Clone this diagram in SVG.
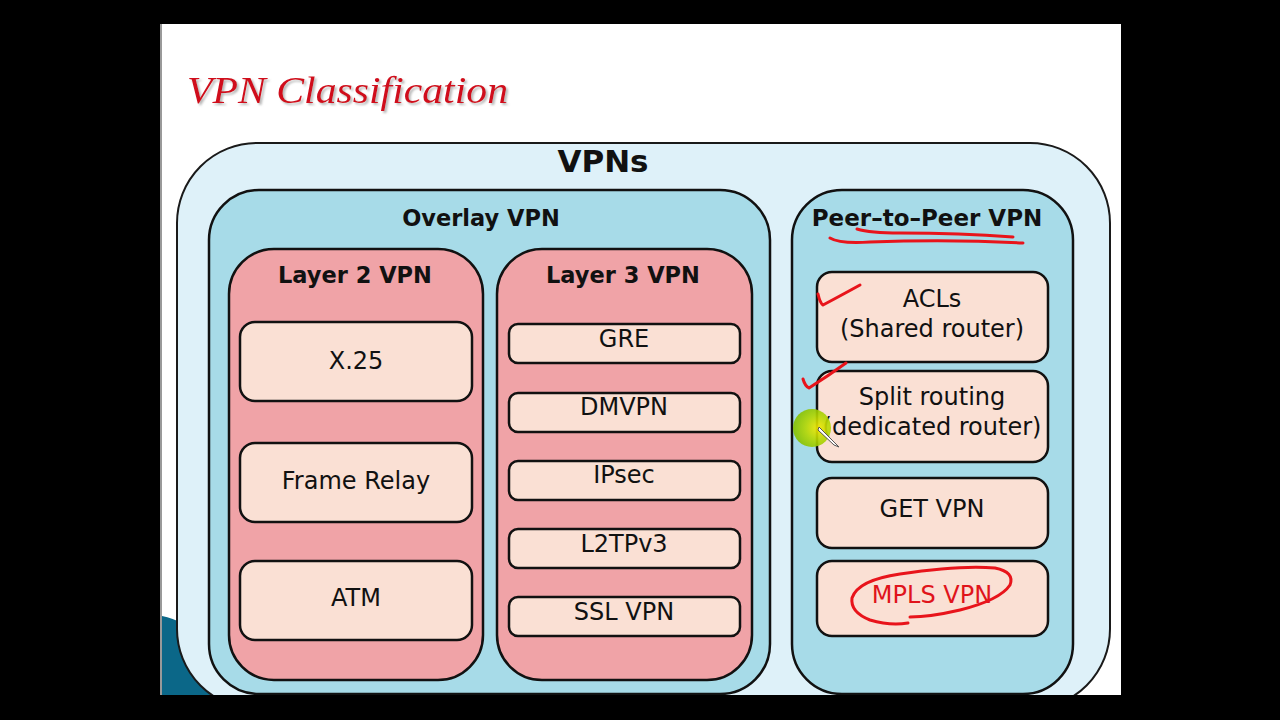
<svg xmlns="http://www.w3.org/2000/svg" width="1280" height="720" viewBox="0 0 1280 720">
<defs>
<style>
.outer{fill:#def1f9;stroke:#1a1a1a;stroke-width:2}
.grp{fill:#a7dbe8;stroke:#111;stroke-width:2.5}
.layer{fill:#f0a3a7;stroke:#111;stroke-width:2.5}
.item{fill:#fae0d4;stroke:#111;stroke-width:2.5}
.hdr{font-family:"DejaVu Sans",Verdana,sans-serif;font-weight:bold;font-size:22.5px;fill:#111;text-anchor:middle}
.txt{font-family:"DejaVu Sans",Verdana,sans-serif;font-size:24px;fill:#111;text-anchor:middle}
.ink{fill:none;stroke:#e8141b;stroke-width:3;stroke-linecap:round;stroke-linejoin:round}
</style>
<filter id="sh" x="-5%" y="-20%" width="110%" height="140%">
<feDropShadow dx="2" dy="2" stdDeviation="1.2" flood-color="#888" flood-opacity="0.6"/>
</filter>
<radialGradient id="hl" cx="0.65" cy="0.5" r="0.6">
<stop offset="0" stop-color="#f4e800"/>
<stop offset="0.55" stop-color="#b2d600"/>
<stop offset="1" stop-color="#88c200"/>
</radialGradient>
</defs>
<rect x="0" y="0" width="1280" height="720" fill="#000"/>
<rect x="160" y="24" width="961" height="671" fill="#fff"/>
<rect x="160" y="24" width="2" height="671" fill="#999"/>
<path d="M162,616 Q205,624 245,695 L162,695 Z" fill="#0b6788"/>

<text x="187" y="103" font-family="'Liberation Serif',serif" font-style="italic" font-size="38" fill="#d0101c" textLength="321" lengthAdjust="spacingAndGlyphs" filter="url(#sh)">VPN Classification</text>

<g id="vpns">
<rect class="outer" x="177" y="143" width="933" height="566" rx="80"/>
<text class="hdr" x="603" y="172" style="font-size:31px">VPNs</text>
</g>
<g id="overlay">
<rect class="grp" x="209" y="190" width="561" height="504" rx="50"/>
<text class="hdr" x="481" y="226">Overlay VPN</text>
</g>
<g id="peer">
<rect class="grp" x="792" y="190" width="281" height="504" rx="50"/>
<text class="hdr" x="927" y="226" style="font-size:23px">Peer–to–Peer VPN</text>
</g>
<g id="layer2">
<rect class="layer" x="229" y="249" width="254" height="431" rx="45"/>
<text class="hdr" x="355" y="283">Layer 2 VPN</text>
</g>
<g id="layer3">
<rect class="layer" x="497" y="249" width="255" height="431" rx="45"/>
<text class="hdr" x="623" y="283">Layer 3 VPN</text>
</g>

<g id="x25"><rect class="item" x="240" y="322" width="232" height="79" rx="15"/><text class="txt" x="356" y="369">X.25</text></g>
<g id="framerelay"><rect class="item" x="240" y="443" width="232" height="79" rx="15"/><text class="txt" x="356" y="489">Frame Relay</text></g>
<g id="atm"><rect class="item" x="240" y="561" width="232" height="79" rx="15"/><text class="txt" x="356" y="606">ATM</text></g>

<g id="gre"><rect class="item" x="509" y="324" width="231" height="39" rx="9"/><text class="txt" x="624" y="347">GRE</text></g>
<g id="dmvpn"><rect class="item" x="509" y="393" width="231" height="39" rx="9"/><text class="txt" x="624" y="415">DMVPN</text></g>
<g id="ipsec"><rect class="item" x="509" y="461" width="231" height="39" rx="9"/><text class="txt" x="624" y="483">IPsec</text></g>
<g id="l2tpv3"><rect class="item" x="509" y="529" width="231" height="39" rx="9"/><text class="txt" x="624" y="552">L2TPv3</text></g>
<g id="sslvpn"><rect class="item" x="509" y="597" width="231" height="39" rx="9"/><text class="txt" x="624" y="620">SSL VPN</text></g>

<g id="acls"><rect class="item" x="817" y="272" width="231" height="90" rx="15"/><text class="txt" x="932" y="307">ACLs</text><text class="txt" x="932" y="337">(Shared router)</text></g>
<g id="split"><rect class="item" x="817" y="371" width="231" height="91" rx="15"/><text class="txt" x="932" y="405">Split routing</text><text class="txt" x="932" y="435">(dedicated router)</text></g>
<g id="getvpn"><rect class="item" x="817" y="478" width="231" height="70" rx="15"/><text class="txt" x="932" y="517">GET VPN</text></g>
<g id="mplsvpn"><rect class="item" x="817" y="561" width="231" height="75" rx="15"/><text class="txt" x="932" y="603" style="fill:#e0141b">MPLS VPN</text></g>

<rect x="0" y="695" width="1280" height="25" fill="#000"/>

<g id="annotations">
<path class="ink" d="M857,229 Q870,233 900,233 Q960,233 1013,237"/>
<path class="ink" d="M830,238 Q840,244 870,242 Q950,239 1023,243"/>
<path class="ink" d="M818,294 Q820,303 823,305 Q840,296 860,285"/>
<path class="ink" d="M803,379 Q805,386 809,388 Q828,376 846,363"/>
<path class="ink" d="M908,623 Q890,626 870,620 Q850,612 852,598 Q858,580 900,574 Q960,565 995,568 Q1015,572 1010,585 Q1000,600 960,610 Q930,617 910,617"/>
<circle cx="812" cy="428" r="19" fill="url(#hl)" opacity="0.9"/>
<path d="M819,427 L835,443 L839,447 L834,445 L818,430 Z" fill="#fff" stroke="#555" stroke-width="1"/>
</g>
</svg>
